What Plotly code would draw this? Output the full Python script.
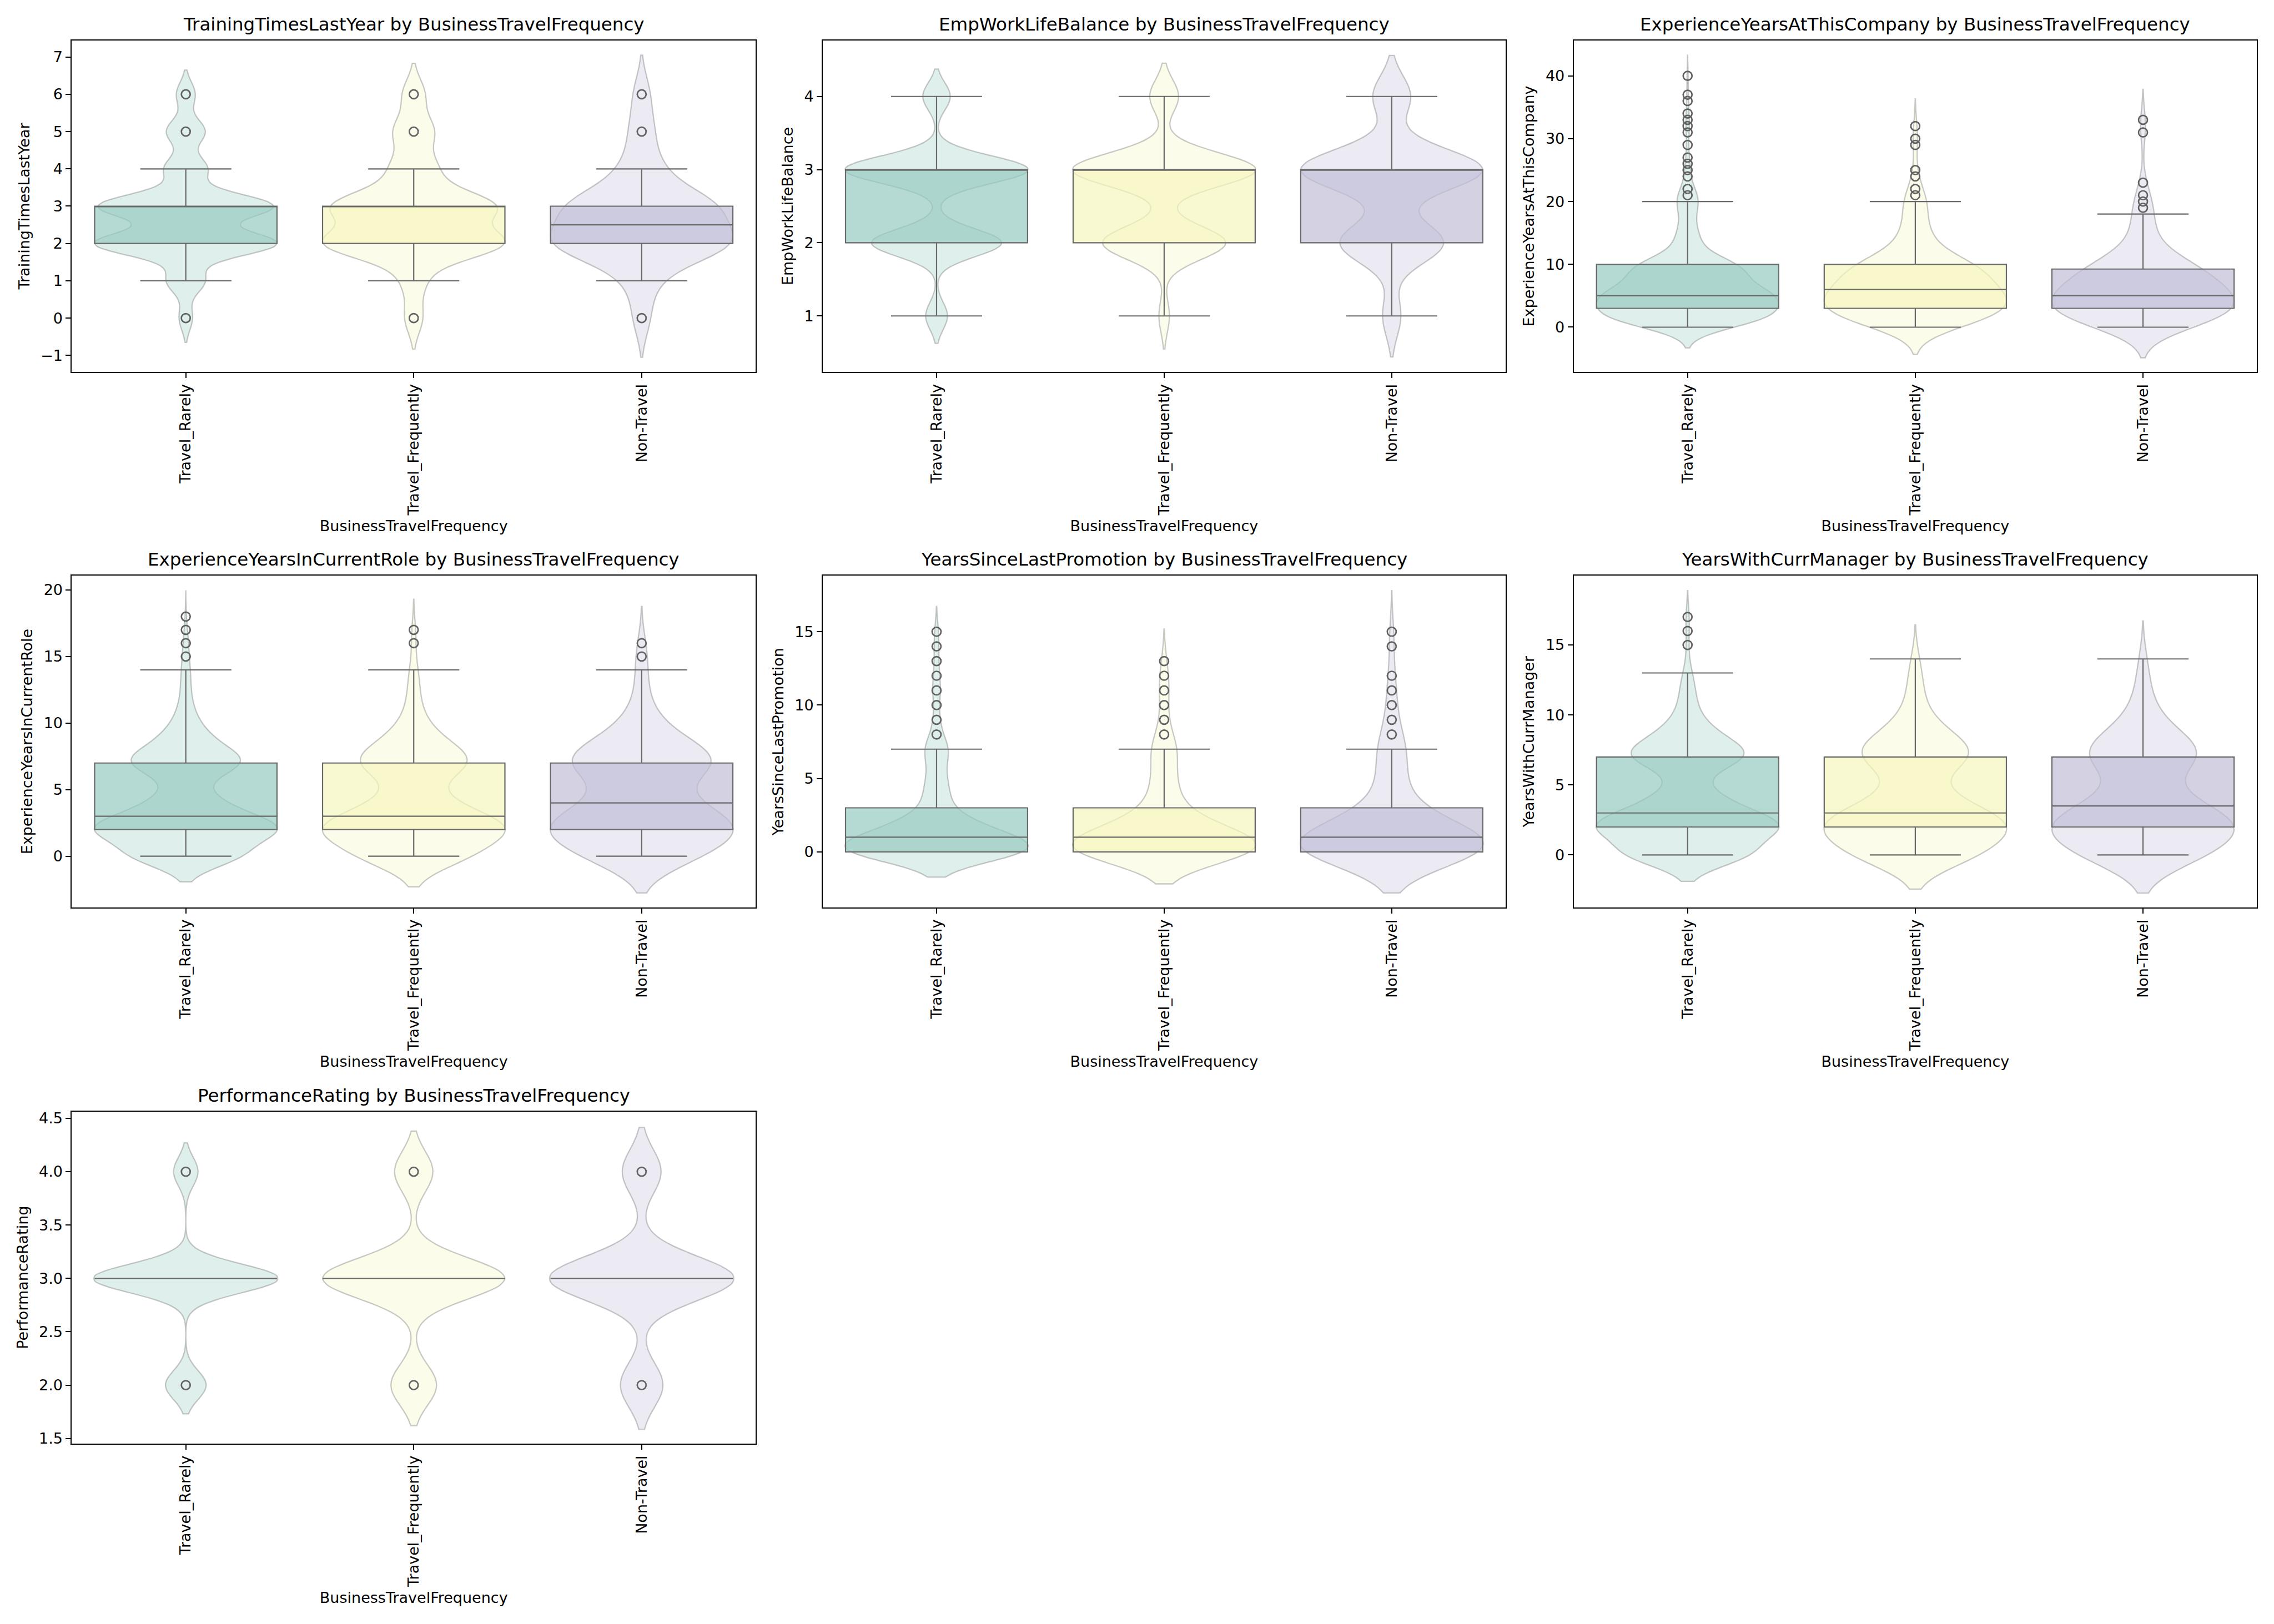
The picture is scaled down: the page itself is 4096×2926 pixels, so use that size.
import numpy as np
import plotly.graph_objects as go
from plotly.subplots import make_subplots

# ---------------- data ----------------
categories = ["Travel_Rarely", "Travel_Frequently", "Non-Travel"]
metric_names = ["TrainingTimesLastYear", "EmpWorkLifeBalance", "ExperienceYearsAtThisCompany",
                "ExperienceYearsInCurrentRole", "YearsSinceLastPromotion", "YearsWithCurrManager",
                "PerformanceRating"]
x_label = "BusinessTravelFrequency"

# Panel 1: TrainingTimesLastYear (counts per value, per category)
training_values = [0, 1, 2, 3, 4, 5, 6]
training_rarely = [22, 63, 300, 288, 71, 64, 31]
training_frequently = [8, 10, 80, 72, 20, 18, 10]
training_nontravel = [5, 8, 53, 43, 11, 7, 5]

# Panel 2: EmpWorkLifeBalance
wlb_values = [1, 2, 3, 4]
wlb_rarely = [50, 298, 420, 63]
wlb_frequently = [8, 94, 140, 22]
wlb_nontravel = [13, 74, 130, 27]

# Panel 3: ExperienceYearsAtThisCompany (values 0..40)
company_values = list(range(0, 41))
company_rarely = [30, 120, 90, 90, 78, 140, 55, 63, 56, 58, 85, 22, 10, 17, 12, 14, 8, 6, 9, 8, 18,
                  10, 10, 0, 4, 3, 3, 2, 0, 2, 0, 2, 2, 3, 1, 0, 2, 1, 0, 0, 2]
company_frequently = [6, 25, 20, 22, 20, 30, 15, 16, 16, 16, 24, 6, 4, 5, 4, 4, 3, 2, 3, 2, 5,
                      2, 2, 0, 1, 1, 0, 0, 0, 1, 1, 0, 1, 0, 0, 0, 0, 0, 0, 0, 0]
company_nontravel = [4, 16, 12, 12, 10, 18, 8, 9, 8, 9, 10, 3, 2, 2, 2, 2, 1, 1, 2, 1, 2,
                     1, 0, 1, 0, 0, 0, 0, 0, 0, 0, 1, 0, 1, 0, 0, 0, 0, 0, 0, 0]

# Panel 4: ExperienceYearsInCurrentRole (values 0..18)
role_values = list(range(0, 19))
role_rarely = [140, 33, 212, 77, 59, 21, 21, 127, 51, 38, 17, 13, 6, 8, 6, 5, 4, 2, 1]
role_frequently = [36, 9, 55, 20, 15, 5, 6, 33, 13, 10, 4, 3, 2, 2, 2, 0, 1, 1, 0]
role_nontravel = [18, 5, 27, 10, 10, 4, 4, 22, 9, 6, 3, 2, 1, 1, 1, 1, 1, 0, 0]

# Panel 5: YearsSinceLastPromotion (values 0..15)
promo_values = list(range(0, 16))
promo_rarely = [331, 204, 91, 30, 35, 26, 18, 43, 10, 10, 3, 14, 6, 6, 5, 7]
promo_frequently = [85, 52, 23, 8, 9, 7, 5, 11, 3, 3, 1, 4, 2, 2, 0, 0]
promo_nontravel = [52, 32, 14, 5, 5, 4, 3, 7, 2, 2, 1, 2, 1, 0, 1, 1]

# Panel 6: YearsWithCurrManager (values 0..17)
manager_values = list(range(0, 18))
manager_rarely = [150, 43, 196, 81, 56, 18, 17, 123, 61, 36, 15, 13, 10, 8, 0, 3, 1, 4]
manager_frequently = [40, 11, 52, 21, 15, 5, 4, 32, 16, 10, 4, 3, 3, 2, 2, 0, 0, 0]
manager_nontravel = [20, 6, 26, 11, 8, 3, 2, 17, 8, 5, 2, 2, 1, 1, 1, 0, 0, 0]

# Panel 7: PerformanceRating
rating_values = [2, 3, 4]
rating_rarely = [130, 590, 78]
rating_frequently = [25, 100, 21]
rating_nontravel = [23, 100, 21]

# Box statistics: [q1, median, q3, lower whisker, upper whisker]
box_training = [[2, 3, 3, 1, 4], [2, 3, 3, 1, 4], [2, 2.5, 3, 1, 4]]
box_wlb = [[2, 3, 3, 1, 4], [2, 3, 3, 1, 4], [2, 3, 3, 1, 4]]
box_company = [[3, 5, 10, 0, 20], [3, 6, 10, 0, 20], [3, 5, 9.25, 0, 18]]
box_role = [[2, 3, 7, 0, 14], [2, 3, 7, 0, 14], [2, 4, 7, 0, 14]]
box_promo = [[0, 1, 3, 0, 7], [0, 1, 3, 0, 7], [0, 1, 3, 0, 7]]
box_manager = [[2, 3, 7, 0, 13], [2, 3, 7, 0, 14], [2, 3.5, 7, 0, 14]]
box_rating = [[3, 3, 3, 3, 3], [3, 3, 3, 3, 3], [3, 3, 3, 3, 3]]

# Outliers (fliers)
out_training = [[0, 5, 6], [0, 5, 6], [0, 5, 6]]
out_wlb = [[], [], []]
out_company = [[21, 22, 24, 25, 26, 27, 29, 31, 32, 33, 34, 36, 37, 40],
               [21, 22, 24, 25, 29, 30, 32],
               [19, 20, 21, 23, 31, 33]]
out_role = [[15, 16, 17, 18], [16, 17], [15, 16]]
out_promo = [[8, 9, 10, 11, 12, 13, 14, 15], [8, 9, 10, 11, 12, 13], [8, 9, 10, 11, 12, 14, 15]]
out_manager = [[15, 16, 17], [], []]
out_rating = [[2, 4], [2, 4], [2, 4]]

bw_training = [0.325, 0.415, 0.525]
bw_wlb = [0.187, 0.227, 0.28]
bw_company = [1.65, 2.17, 2.43]
bw_role = [0.96, 1.15, 1.38]
bw_promo = [0.86, 1.09, 1.4]
bw_manager = [0.94, 1.22, 1.36]
bw_rating = [0.135, 0.19, 0.207]

# y-axis ranges and tick steps
y_ranges = [[-1.444, 7.444], [0.234, 4.766], [-7.13, 45.64], [-3.84, 21.06],
            [-3.78, 18.81], [-3.74, 19.94], [1.453, 4.5635]]
y_dticks = [1, 1, 10, 5, 5, 5, 0.5]

panels = [
    (training_values, [training_rarely, training_frequently, training_nontravel], box_training, out_training, bw_training),
    (wlb_values, [wlb_rarely, wlb_frequently, wlb_nontravel], box_wlb, out_wlb, bw_wlb),
    (company_values, [company_rarely, company_frequently, company_nontravel], box_company, out_company, bw_company),
    (role_values, [role_rarely, role_frequently, role_nontravel], box_role, out_role, bw_role),
    (promo_values, [promo_rarely, promo_frequently, promo_nontravel], box_promo, out_promo, bw_promo),
    (manager_values, [manager_rarely, manager_frequently, manager_nontravel], box_manager, out_manager, bw_manager),
    (rating_values, [rating_rarely, rating_frequently, rating_nontravel], box_rating, out_rating, bw_rating),
]

# ---------------- style ----------------
base_rgb = [(150, 202, 193), (246, 246, 189), (193, 190, 214)]
violin_alpha = 0.3
box_alpha = 0.7
line_gray = "rgb(105,105,105)"
marker_gray = "rgb(98,98,98)"
violin_line = "rgba(100,100,100,0.35)"
FONT = "DejaVu Sans"
TICK_SIZE = 27
LABEL_SIZE = 27
TITLE_SIZE = 32.5

x_domains = [[0.03159, 0.33230], [0.36182, 0.66206], [0.69206, 0.99246]]
y_domains = [[0.77095, 0.97512], [0.44128, 0.64545], [0.11118, 0.31555]]

fig = make_subplots(rows=3, cols=3,
                    specs=[[{}, {}, {}], [{}, {}, {}], [{}, None, None]])

for p, (vals, counts_list, boxes, outs, bws) in enumerate(panels):
    row, col = p // 3 + 1, p % 3 + 1
    for c, cat in enumerate(categories):
        r, g, b = base_rgb[c]
        samples = np.repeat(np.array(vals, dtype=float), counts_list[c])
        fig.add_trace(go.Violin(
            x=[cat] * len(samples), y=samples, bandwidth=bws[c], spanmode="soft",
            width=0.8, scalemode="width", side="both", points=False,
            box_visible=False, meanline_visible=False,
            fillcolor=f"rgba({r},{g},{b},{violin_alpha})",
            line=dict(color=violin_line, width=2.3),
            hoverinfo="skip", showlegend=False), row=row, col=col)
        q1, med, q3, lo, hi = boxes[c]
        fig.add_trace(go.Box(
            x=[cat], q1=[q1], median=[med], q3=[q3], lowerfence=[lo], upperfence=[hi],
            width=0.8, whiskerwidth=0.5, boxpoints=False,
            fillcolor=f"rgba({r},{g},{b},{box_alpha})",
            line=dict(color=line_gray, width=2.2),
            hoverinfo="skip", showlegend=False), row=row, col=col)
        if outs[c]:
            fig.add_trace(go.Scatter(
                x=[cat] * len(outs[c]), y=outs[c], mode="markers",
                marker=dict(symbol="circle-open", size=16, color=marker_gray,
                            line=dict(width=2.7, color=marker_gray)),
                hoverinfo="skip", showlegend=False), row=row, col=col)

annotations = []
for p in range(7):
    suffix = "" if p == 0 else str(p + 1)
    rr, cc = p // 3, p % 3
    xd, yd = x_domains[cc], y_domains[rr]
    fig.layout["xaxis" + suffix].update(
        domain=xd, type="category", categoryorder="array", categoryarray=categories,
        range=[-0.5, 2.5], tickangle=-90, ticks="outside", ticklen=9, tickwidth=2,
        tickcolor="black", showline=True, mirror=True, linecolor="black", linewidth=2,
        showgrid=False, zeroline=False, automargin=False,
        tickfont=dict(family=FONT, size=TICK_SIZE, color="black"),
        title=dict(text=x_label, font=dict(family=FONT, size=LABEL_SIZE, color="black"), standoff=10))
    fig.layout["yaxis" + suffix].update(
        domain=yd, range=y_ranges[p], dtick=y_dticks[p], tick0=0,
        tickformat=".1f" if p == 6 else None,
        ticks="outside", ticklen=9, tickwidth=2, tickcolor="black",
        showline=True, mirror=True, linecolor="black", linewidth=2,
        showgrid=False, zeroline=False, automargin=False,
        tickfont=dict(family=FONT, size=TICK_SIZE, color="black"),
        title=dict(text=metric_names[p], font=dict(family=FONT, size=LABEL_SIZE, color="black"), standoff=12))
    annotations.append(dict(
        text=f"{metric_names[p]} by {x_label}", x=(xd[0] + xd[1]) / 2, y=yd[1],
        xref="paper", yref="paper", xanchor="center", yanchor="bottom", yshift=8,
        showarrow=False, font=dict(family=FONT, size=TITLE_SIZE, color="black")))

fig.update_layout(
    width=4096, height=2926, margin=dict(l=0, r=0, t=0, b=0),
    paper_bgcolor="white", plot_bgcolor="white",
    violinmode="overlay", boxmode="overlay", showlegend=False,
    annotations=annotations, font=dict(family=FONT, color="black"))

fig.write_html("out.html")
